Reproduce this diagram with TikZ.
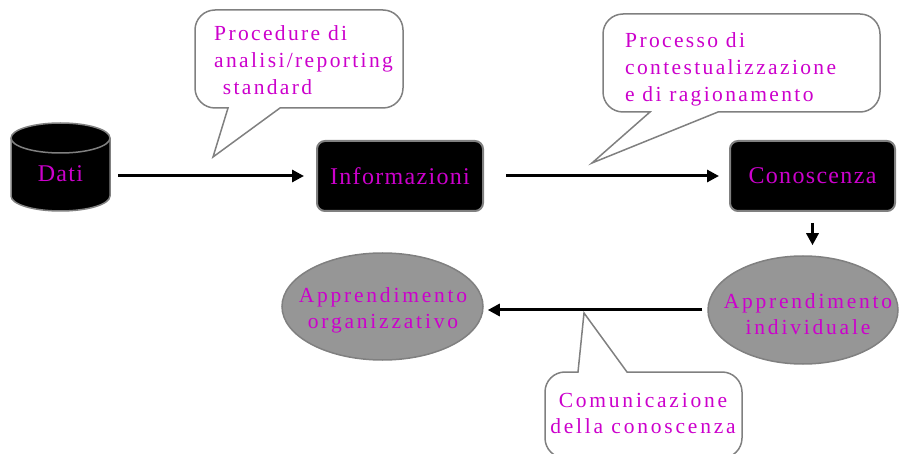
\documentclass[tikz,border=0pt]{standalone}
\usepackage{fontspec}
\usetikzlibrary{arrows.meta,shapes.geometric}
\newfontfamily\lsA[LetterSpace=13]{Liberation Serif}
\newfontfamily\lsC[LetterSpace=11]{Liberation Serif}
\newfontfamily\lsB[LetterSpace=5.5]{Liberation Serif}
\definecolor{mag}{RGB}{204,0,204}
\definecolor{bord}{RGB}{128,128,128}
\definecolor{ellfill}{RGB}{150,150,150}
\tikzset{
  arr/.style={line width=3pt,-{Triangle[length=12pt,width=12pt]}},
  blackbox/.style={draw=bord,line width=2pt,fill=black,rounded corners=8pt,minimum width=166pt,minimum height=70pt,inner sep=0pt,text=mag,font=\lsB\fontsize{24}{28}\selectfont},
  grayell/.style={ellipse,draw=bord,line width=1.5pt,fill=ellfill,inner sep=0pt},
  elltext/.style={inner sep=0pt,text=mag,align=center,font=\lsA\fontsize{21.5}{26}\selectfont},
  callout/.style={draw=bord,line width=1.5pt,fill=white},
  callouttext/.style={inner sep=0pt,text=mag,font=\lsC\fontsize{21.5}{27}\selectfont},
}
\begin{document}
\begin{tikzpicture}[x=1pt,y=1pt]
\useasboundingbox (0,0) rectangle (900,453);
\clip (0,0) rectangle (900,453);
% cylinder
\path[fill=black,draw=bord,line width=1.5pt] (11,315) -- (11,257) arc[start angle=180,end angle=360,x radius=49.5,y radius=15] -- (110,315) arc[start angle=0,end angle=180,x radius=49.5,y radius=15] -- cycle;
\draw[bord,line width=1.5pt] (11,315) arc[start angle=180,end angle=360,x radius=49.5,y radius=15];
\node[inner sep=0pt,minimum width=99pt,text=mag,font=\lsB\fontsize{24}{28}\selectfont] (dati) at (60.5,279) {Dati};
% boxes
\node[blackbox] (info) at (400,277) {Informazioni};
\node[blackbox,minimum width=165pt] (cono) at (812.5,277) {Conoscenza};
% ellipses
\node[grayell,minimum width=201pt,minimum height=107pt] (org) at (382.5,146.5) {};
\node[elltext] (orgt) at (383,143) {Apprendimento\\organizzativo};
\node[grayell,minimum width=190pt,minimum height=108pt] (ind) at (803,143) {};
\node[elltext] (indt) at (808,139) {Apprendimento\\individuale};
% arrows
\draw[arr] ([xshift=8pt]dati.east |- info.west) -- ([xshift=-12pt]info.west);
\draw[arr] ([xshift=22pt]info.east) -- ([xshift=-10pt]cono.west);
\draw[arr] ([yshift=-11pt]cono.south) -- ([yshift=10pt]cono.south |- ind.north);
\draw[arr] ([xshift=-5pt]ind.west) -- ([xshift=4pt]ind.west -| org.east);
% callout 1
\path[callout] (280,345) -- (213,296) -- (228,345) -- (215,345) arc[start angle=270,end angle=180,radius=20] -- (195,423) arc[start angle=180,end angle=90,radius=20] -- (383,443) arc[start angle=90,end angle=0,radius=20] -- (403,365) arc[start angle=0,end angle=-90,radius=20] -- cycle;
\node[callouttext,anchor=north west,align=left] (c1) at (214,428) {Procedure di\\analisi/reporting\\\hspace*{0.4em}standard};
% callout 2
\path[callout] (718,341) -- (592,290) -- (650,341) -- (623,341) arc[start angle=270,end angle=180,radius=20] -- (603,419) arc[start angle=180,end angle=90,radius=20] -- (860,439) arc[start angle=90,end angle=0,radius=20] -- (880,361) arc[start angle=0,end angle=-90,radius=20] -- cycle;
\node[callouttext,anchor=north west,align=left] (c2) at (625,421) {Processo di\\contestualizzazione\\e di ragionamento};
% callout 3
\path[callout] (578,81) -- (584,140) -- (627,81) -- (722,81) arc[start angle=90,end angle=0,radius=20] -- (742,15) arc[start angle=0,end angle=-90,radius=20] -- (565,-5) arc[start angle=270,end angle=180,radius=20] -- (545,61) arc[start angle=180,end angle=90,radius=20] -- cycle;
\node[elltext,anchor=north] (c3) at (643,60) {Comunicazione\\della conoscenza};
\end{tikzpicture}
\end{document}
